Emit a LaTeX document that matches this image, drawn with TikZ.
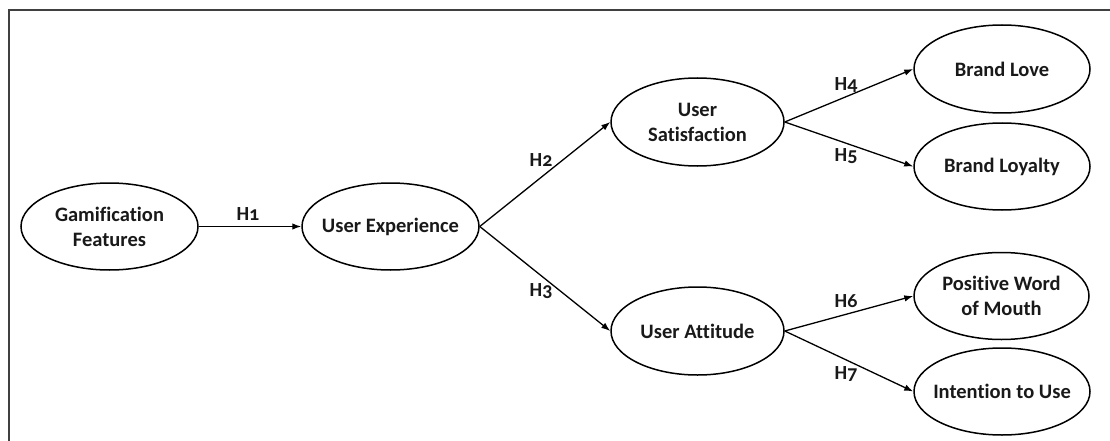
\documentclass[tikz,border=0pt]{standalone}
\usepackage{fontspec}
\setmainfont{Carlito}[Numbers=OldStyle,Ligatures=NoCommon]
\usetikzlibrary{shapes.geometric,arrows.meta}
\begin{document}
\begin{tikzpicture}[x=1pt,y=-1pt,
 oval/.style={ellipse,draw,line width=1.5pt,minimum width=176pt,minimum height=87pt,inner sep=0pt},
 txt/.style={font=\bfseries\fontsize{20.5}{25}\selectfont,align=center,inner sep=0pt,text=black!90},
 arr/.style={line width=1.3pt,-{Latex[length=9pt,width=6.5pt]}},
 hyp/.style={font=\bfseries\fontsize{20}{22}\selectfont,inner sep=0pt,text=black!90}]
\useasboundingbox (0,0) rectangle (1110,441);
\draw[line width=2pt,color=black!75] (9,441) -- (9,10) -- (1110,10);

\node[oval,minimum width=177pt,label={[txt]center:Gamification\\Features}] (gf) at (109.5,226.5) {};
\node[oval,minimum width=177pt,label={[txt]center:User Experience}] (ue) at (390.5,226.5) {};
\node[oval,minimum width=173pt,minimum height=88pt,label={[txt]center:User\\Satisfaction}] (us) at (697.5,122) {};
\node[oval,minimum width=173pt,minimum height=88pt,label={[txt]center:User Attitude}] (ua) at (697.5,331) {};
\node[oval,minimum height=88pt,label={[txt]center:Brand Love}] (bl) at (1002,69) {};
\node[oval,label={[txt]center:Brand Loyalty}] (by) at (1002,166.5) {};
\node[oval,minimum width=175pt,label={[txt]center:Positive Word\\of Mouth}] (pw) at (1001.5,296) {};
\node[oval,label={[txt]center:Intention to Use}] (iu) at (1002,391.5) {};

\draw[arr] (gf.east) -- (ue.west);
\draw[arr] (ue.east) -- (us.west);
\draw[arr] (ue.east) -- (ua.west);
\draw[arr] (us.east) -- (bl.west);
\draw[arr] (us.east) -- (by.west);
\draw[arr] (ua.east) -- (pw.west);
\draw[arr] (ua.east) -- (iu.west);

\node[hyp] (h1) at (248,214) {H1};
\node[hyp] (h2) at (541,160) {H2};
\node[hyp] (h3) at (541,291) {H3};
\node[hyp] (h4) at (846,85) {H4};
\node[hyp] (h5) at (846,156) {H5};
\node[hyp] (h6) at (846,301) {H6};
\node[hyp] (h7) at (846,374) {H7};
\end{tikzpicture}
\end{document}
